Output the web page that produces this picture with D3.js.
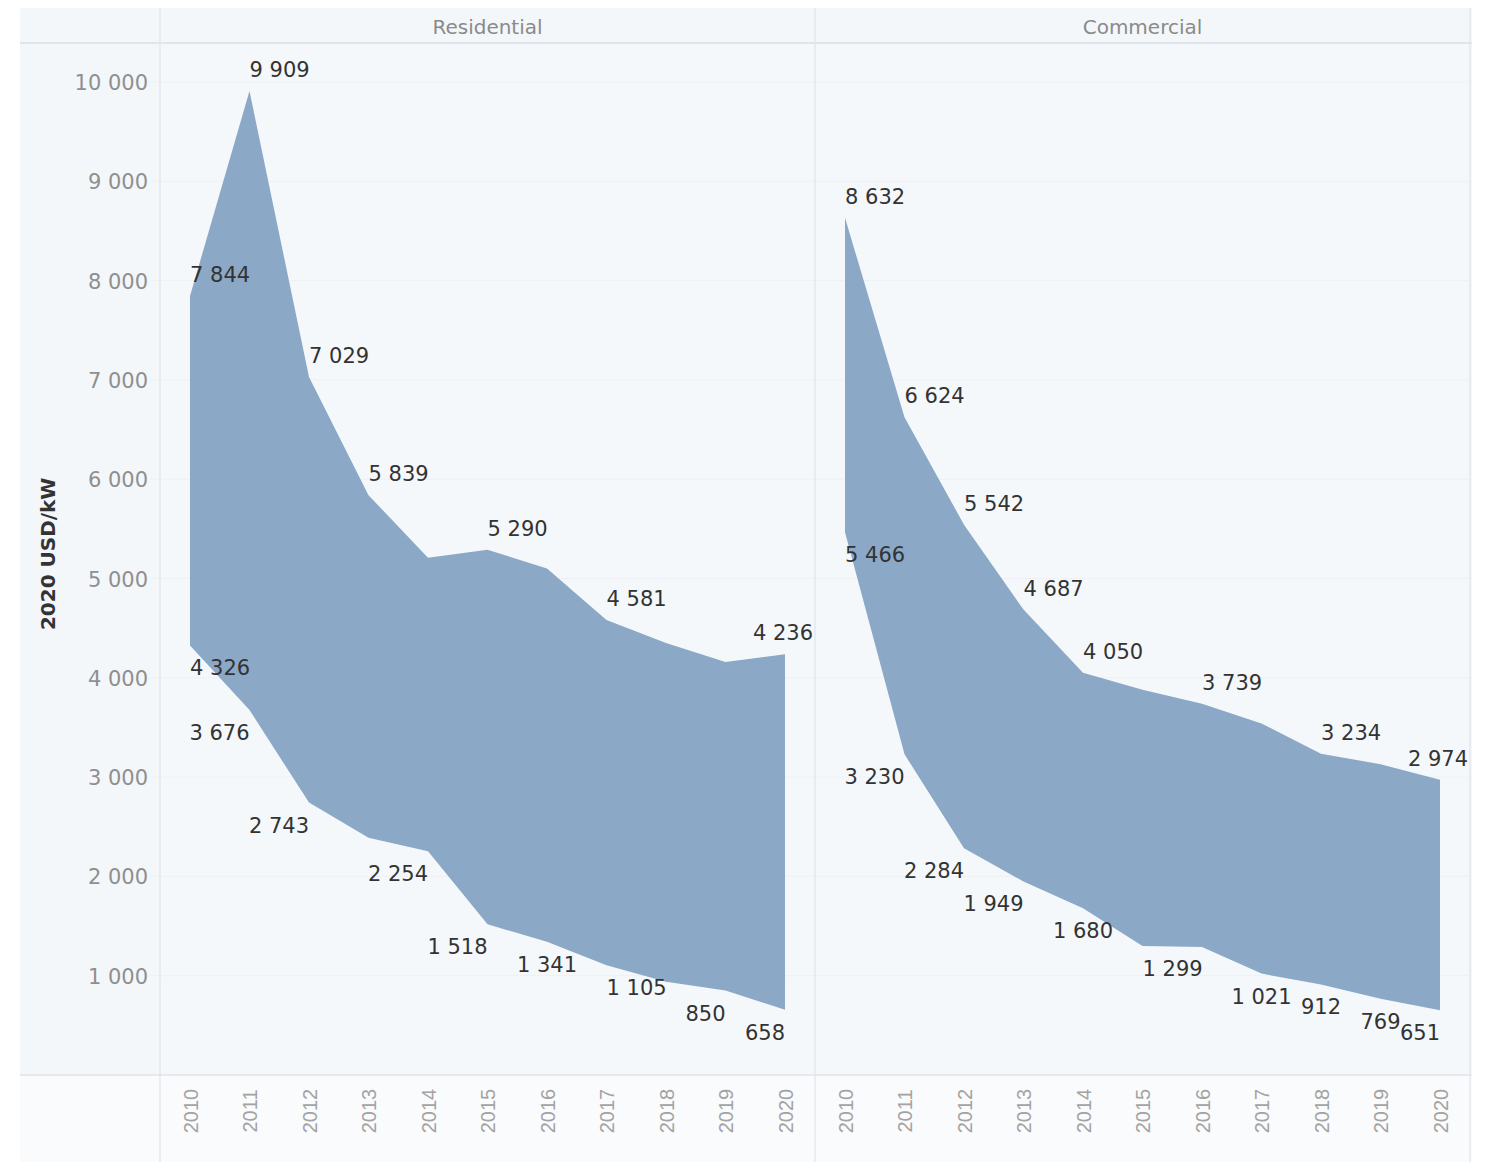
<!DOCTYPE html>
<html>
<head>
<meta charset="utf-8">
<script src="https://cdn.jsdelivr.net/npm/d3@7/dist/d3.min.js"></script>
<style>
  html, body { margin: 0; padding: 0; background: #ffffff; }
  svg { display: block; font-family: "DejaVu Sans", sans-serif; }
</style>
</head>
<body>
<svg id="chart" width="1486" height="1165"></svg>
<script>
// ---------- data ----------
const years = [2010, 2011, 2012, 2013, 2014, 2015, 2016, 2017, 2018, 2019, 2020];
const panels = ["Residential", "Commercial"];
const residentialUpper = [7844, 9909, 7029, 5839, 5210, 5290, 5100, 4581, 4350, 4160, 4236];
const residentialLower = [4326, 3676, 2743, 2390, 2254, 1518, 1341, 1105, 940, 850, 658];
const commercialUpper  = [8632, 6624, 5542, 4687, 4050, 3880, 3739, 3540, 3234, 3130, 2974];
const commercialLower  = [5466, 3230, 2284, 1949, 1680, 1299, 1290, 1021, 912, 769, 651];
const residentialUpperLabeled = [2010, 2011, 2012, 2013, 2015, 2017, 2020];
const residentialLowerLabeled = [2010, 2011, 2012, 2014, 2015, 2016, 2017, 2019, 2020];
const commercialUpperLabeled  = [2010, 2011, 2012, 2013, 2014, 2016, 2018, 2020];
const commercialLowerLabeled  = [2010, 2011, 2012, 2013, 2014, 2015, 2017, 2018, 2019, 2020];
const yTicks = [1000, 2000, 3000, 4000, 5000, 6000, 7000, 8000, 9000, 10000];
const yTitle = "2020 USD/kW";

// ---------- layout / style ----------
const W = 1486, H = 1165;
const frame = { x0: 20, x1: 1472, y0: 8, y1: 1162 };
const headerBottom = 43;
const axisY = 1075;
const paneEdges = [160, 815, 1470];
const fill = "#8ba8c7";
const lowerAnchors = {
  Residential: { 2010: "start", 2011: "end", 2012: "end", 2014: "end", 2015: "end", 2016: "middle", 2017: "start", 2019: "end", 2020: "end" },
  Commercial:  { 2010: "start", 2011: "end", 2012: "end", 2013: "end", 2014: "middle", 2015: "start", 2017: "middle", 2018: "middle", 2019: "middle", 2020: "end" }
};

const fmt = d3.formatLocale({ decimal: ".", thousands: " ", grouping: [3], currency: ["", ""] }).format(",d");

const svg = d3.select("#chart");

// backgrounds
svg.append("rect").attr("x", 0).attr("y", 0).attr("width", W).attr("height", H).attr("fill", "#ffffff");
svg.append("rect").attr("x", frame.x0).attr("y", frame.y0)
  .attr("width", frame.x1 - frame.x0).attr("height", axisY - frame.y0).attr("fill", "#f4f7fa");
svg.append("rect").attr("x", frame.x0).attr("y", axisY)
  .attr("width", frame.x1 - frame.x0).attr("height", frame.y1 - axisY).attr("fill", "#f9fbfc");
svg.append("rect").attr("x", paneEdges[0]).attr("y", headerBottom)
  .attr("width", paneEdges[2] - paneEdges[0]).attr("height", axisY - headerBottom).attr("fill", "#f5f8fb");

const y = d3.scaleLinear().domain([0, 10000]).range([axisY, 82]);

// gridlines
svg.append("g").selectAll("line").data(yTicks).join("line")
  .attr("x1", 150).attr("x2", paneEdges[2])
  .attr("y1", d => y(d)).attr("y2", d => y(d))
  .attr("stroke", "#edf1f5").attr("stroke-width", 1);

// y axis
const yAxis = d3.axisLeft(y).tickValues(yTicks).tickFormat(fmt).tickSize(0).tickPadding(0);
const yg = svg.append("g").attr("transform", `translate(148,0)`).call(yAxis);
yg.select(".domain").remove();
yg.selectAll("text").attr("fill", "#8f8f8f").attr("font-size", 21)
  .attr("font-family", "DejaVu Sans, sans-serif").attr("dy", "0.36em");

svg.append("text")
  .attr("transform", `translate(55,${(y(yTicks[0]) + y(yTicks[yTicks.length - 1])) / 2 + 25}) rotate(-90)`)
  .attr("text-anchor", "middle")
  .attr("font-size", 20).attr("font-weight", "bold").attr("fill", "#333")
  .text(yTitle);

// panels
const seriesByPanel = {
  Residential: { upper: residentialUpper, lower: residentialLower, upL: residentialUpperLabeled, loL: residentialLowerLabeled },
  Commercial:  { upper: commercialUpper,  lower: commercialLower,  upL: commercialUpperLabeled,  loL: commercialLowerLabeled }
};

panels.forEach((name, i) => {
  const px0 = paneEdges[i], px1 = paneEdges[i + 1];
  const x = d3.scalePoint().domain(years).range([px0 + 30, px1 - 30]);
  const s = seriesByPanel[name];
  const rows = years.map((yr, k) => ({ year: yr, upper: s.upper[k], lower: s.lower[k] }));

  // header
  svg.append("text").attr("x", (px0 + px1) / 2).attr("y", 34)
    .attr("text-anchor", "middle").attr("font-size", 20).attr("fill", "#8a8a8a")
    .text(name);

  // area
  const area = d3.area().x(d => x(d.year)).y0(d => y(d.lower)).y1(d => y(d.upper));
  svg.append("path").datum(rows).attr("d", area).attr("fill", fill);

  // x axis
  const xAxis = d3.axisBottom(x).tickSize(0).tickPadding(0);
  const xg = svg.append("g").attr("transform", `translate(0,${axisY})`).call(xAxis);
  xg.select(".domain").remove();
  xg.selectAll("text")
    .attr("font-size", 20).attr("fill", "#a3a3a3")
    .attr("text-anchor", "middle")
    .attr("transform", "translate(0,36) rotate(-90)")
    .attr("x", 0).attr("y", 0).attr("dy", "0.36em");

  // upper labels
  const lg = svg.append("g").attr("font-size", 21).attr("fill", "#333");
  rows.filter(d => s.upL.includes(d.year)).forEach(d => {
    const t = lg.append("text").attr("x", x(d.year)).attr("y", y(d.upper) - 14)
      .attr("text-anchor", "start").text(fmt(d.upper));
    const bb = t.node().getBBox();
    if (bb.x + bb.width > px1 - 2) t.attr("x", px1 - 2 - bb.width);
  });
  // lower labels
  rows.filter(d => s.loL.includes(d.year)).forEach(d => {
    lg.append("text").attr("x", x(d.year)).attr("y", y(d.lower) + 30)
      .attr("text-anchor", lowerAnchors[name][d.year] || "middle").text(fmt(d.lower));
  });
});

// frame lines
const lineColor = "#dfe4ea";
svg.append("line").attr("x1", frame.x0).attr("x2", frame.x1).attr("y1", headerBottom).attr("y2", headerBottom)
  .attr("stroke", "#d9dfe6").attr("stroke-width", 1.5);
svg.append("line").attr("x1", frame.x0).attr("x2", frame.x1).attr("y1", axisY).attr("y2", axisY)
  .attr("stroke", lineColor).attr("stroke-width", 1.5);
paneEdges.forEach(px => {
  svg.append("line").attr("x1", px).attr("x2", px).attr("y1", frame.y0).attr("y2", frame.y1)
    .attr("stroke", lineColor).attr("stroke-width", 1.2);
});
</script>
</body>
</html>
